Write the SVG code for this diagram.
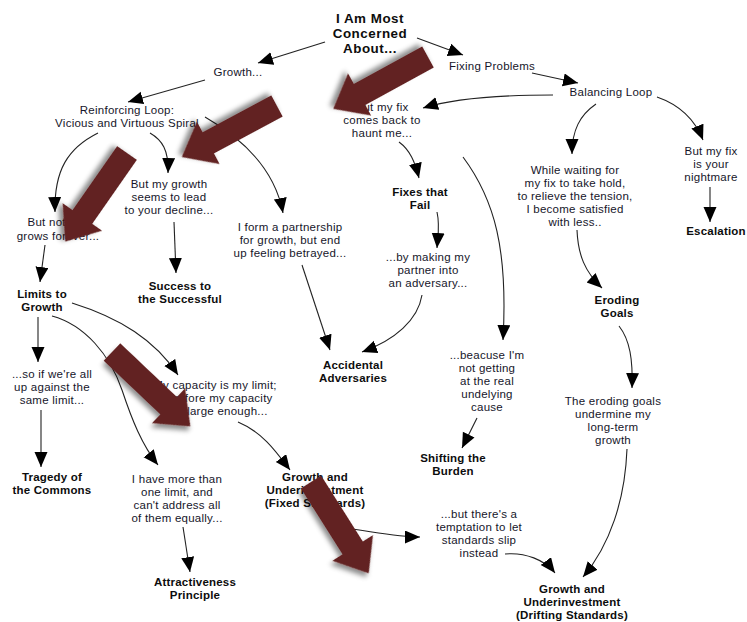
<svg xmlns="http://www.w3.org/2000/svg" xmlns:xlink="http://www.w3.org/1999/xlink" width="747" height="622" viewBox="0 0 747 622">
  <style>
    text { font-family: "Liberation Sans", Arial, sans-serif; text-anchor: middle; }
    .n { font-size: 11.5px; letter-spacing: 0.25px; fill: #16162a; }
    .b { font-size: 11.5px; letter-spacing: 0.2px; font-weight: bold; fill: #0d0d0d; }
    .t { font-size: 13.4px; letter-spacing: 0.5px; font-weight: bold; fill: #0d0d0d; }
    .link { fill: none; stroke: #222; stroke-width: 1.1; marker-end: url(#head); }
    .big { fill: #622422; filter: url(#shade); }
  </style>
  <defs>
    <marker id="head" markerUnits="userSpaceOnUse" markerWidth="16" markerHeight="14" refX="15" refY="6.5" orient="auto">
      <path d="M0,0 L15,6.5 L0,13 Z" fill="#000"/>
    </marker>
    <filter id="shade" x="-30%" y="-30%" width="160%" height="160%">
      <feDropShadow dx="2" dy="4" stdDeviation="2.5" flood-color="#000" flood-opacity="0.45"/>
    </filter>
    <!-- block arrow: tail at origin, tip at x=108 -->
    <path id="block" d="M0,-12 L78,-12 L78,-24 L108,0 L78,24 L78,12 L0,12 Z"/>
  </defs>

  <!-- connectors -->
  <g id="connectors">
    <path class="link" d="M325,42 L258,63"/>
    <path class="link" d="M205,80 L128,102"/>
    <path class="link" d="M98,133 C68,148 54,170 55,212"/>
    <path class="link" d="M150,133 C162,140 169,150 168,173"/>
    <path class="link" d="M205,117 C245,140 275,170 283,213"/>
    <path class="link" d="M45,245 L40,282"/>
    <path class="link" d="M174,222 L176,273"/>
    <path class="link" d="M302,265 L330,350"/>
    <path class="link" d="M38,317 L38,362"/>
    <path class="link" d="M72,303 C120,318 155,340 178,375"/>
    <path class="link" d="M52,316 C85,325 110,355 122,390 C132,420 142,445 158,465"/>
    <path class="link" d="M238,422 C262,432 275,450 290,470"/>
    <path class="link" d="M41,410 L41,467"/>
    <path class="link" d="M183,527 L190,572"/>
    <path class="link" d="M345,528 C375,532 398,537 420,537"/>
    <path class="link" d="M417,38 L463,55"/>
    <path class="link" d="M532,73 L578,83"/>
    <path class="link" d="M553,95 C500,95 455,98 423,108"/>
    <path class="link" d="M596,104 C580,115 572,130 572,154"/>
    <path class="link" d="M657,97 C680,105 695,120 703,140"/>
    <path class="link" d="M710,187 L710,222"/>
    <path class="link" d="M399,142 C410,150 415,162 419,178"/>
    <path class="link" d="M463,157 C495,200 508,250 503,340"/>
    <path class="link" d="M437,212 C440,225 438,235 437,248"/>
    <path class="link" d="M422,295 C418,320 395,340 362,352"/>
    <path class="link" d="M477,418 L462,448"/>
    <path class="link" d="M577,230 C578,255 585,272 602,288"/>
    <path class="link" d="M619,326 C630,340 633,360 632,388"/>
    <path class="link" d="M627,449 C625,500 610,545 583,577"/>
    <path class="link" d="M505,554 C525,552 545,560 555,573"/>
  </g>

  <!-- nodes -->
  <g id="concerned"><text class="t" x="370" y="23">I Am Most</text><text class="t" x="370" y="38">Concerned</text><text class="t" x="370" y="53">About...</text></g>
  <g id="growth"><text class="n" x="238" y="76">Growth...</text></g>
  <g id="reinforcing"><text class="n" x="127" y="114">Reinforcing Loop:</text><text class="n" x="127" y="127">Vicious and Virtuous Spiral</text></g>
  <g id="fixing"><text class="n" x="492" y="70">Fixing Problems</text></g>
  <g id="balancing"><text class="n" x="611" y="96">Balancing Loop</text></g>
  <g id="haunt"><text class="n" x="382" y="111">But my fix</text><text class="n" x="382" y="124">comes back to</text><text class="n" x="382" y="137">haunt me...</text></g>
  <g id="decline"><text class="n" x="169" y="188">But my growth</text><text class="n" x="169" y="201">seems to lead</text><text class="n" x="169" y="214">to your decline...</text></g>
  <g id="forever"><text class="n" x="58" y="226">But nothing</text><text class="n" x="58" y="240">grows forever...</text></g>
  <g id="partnership"><text class="n" x="290" y="231">I form a partnership</text><text class="n" x="290" y="244">for growth, but end</text><text class="n" x="290" y="257">up feeling betrayed...</text></g>
  <g id="waiting"><text class="n" x="575" y="174">While waiting for</text><text class="n" x="575" y="187">my fix to take hold,</text><text class="n" x="575" y="200">to relieve the tension,</text><text class="n" x="575" y="213">I become satisfied</text><text class="n" x="575" y="226">with less..</text></g>
  <g id="nightmare"><text class="n" x="711" y="155">But my fix</text><text class="n" x="711" y="168">is your</text><text class="n" x="711" y="181">nightmare</text></g>
  <g id="escalation"><text class="b" x="716" y="235">Escalation</text></g>
  <g id="fixes-fail"><text class="b" x="420" y="196">Fixes that</text><text class="b" x="420" y="209">Fail</text></g>
  <g id="adversary"><text class="n" x="428" y="261">...by making my</text><text class="n" x="428" y="274">partner into</text><text class="n" x="428" y="287">an adversary...</text></g>
  <g id="limits"><text class="b" x="42" y="298">Limits to</text><text class="b" x="42" y="311">Growth</text></g>
  <g id="success"><text class="b" x="180" y="290">Success to</text><text class="b" x="180" y="303">the Successful</text></g>
  <g id="accidental"><text class="b" x="353" y="369">Accidental</text><text class="b" x="353" y="382">Adversaries</text></g>
  <g id="eroding"><text class="b" x="617" y="304">Eroding</text><text class="b" x="617" y="317">Goals</text></g>
  <g id="same-limit"><text class="n" x="52" y="378">...so if we're all</text><text class="n" x="52" y="391">up against the</text><text class="n" x="52" y="404">same limit...</text></g>
  <g id="capacity"><text class="n" x="215" y="389">My capacity is my limit;</text><text class="n" x="215" y="402">therefore my capacity</text><text class="n" x="215" y="415">isn't large enough...</text></g>
  <g id="because"><text class="n" x="487" y="359">...beacuse I'm</text><text class="n" x="487" y="372">not getting</text><text class="n" x="487" y="385">at the real</text><text class="n" x="487" y="398">undelying</text><text class="n" x="487" y="411">cause</text></g>
  <g id="undermine"><text class="n" x="613" y="405">The eroding goals</text><text class="n" x="613" y="418">undermine my</text><text class="n" x="613" y="431">long-term</text><text class="n" x="613" y="444">growth</text></g>
  <g id="shifting"><text class="b" x="453" y="462">Shifting the</text><text class="b" x="453" y="475">Burden</text></g>
  <g id="tragedy"><text class="b" x="52" y="481">Tragedy of</text><text class="b" x="52" y="494">the Commons</text></g>
  <g id="more-limits"><text class="n" x="177" y="483">I have more than</text><text class="n" x="177" y="496">one limit, and</text><text class="n" x="177" y="509">can't address all</text><text class="n" x="177" y="522">of them equally...</text></g>
  <g id="fixed-standards"><text class="b" x="315" y="481">Growth and</text><text class="b" x="315" y="494">Underinvestment</text><text class="b" x="315" y="507">(Fixed Standards)</text></g>
  <g id="temptation"><text class="n" x="479" y="518">...but there's a</text><text class="n" x="479" y="531">temptation to let</text><text class="n" x="479" y="544">standards slip</text><text class="n" x="479" y="557">instead</text></g>
  <g id="attractiveness"><text class="b" x="195" y="586">Attractiveness</text><text class="b" x="195" y="599">Principle</text></g>
  <g id="drifting-standards"><text class="b" x="572" y="593">Growth and</text><text class="b" x="572" y="606">Underinvestment</text><text class="b" x="572" y="619">(Drifting Standards)</text></g>

  <!-- emphasis block arrows -->
  <g id="pointers">
    <use xlink:href="#block" class="big" transform="translate(428,57) rotate(151.3)"/>
    <use xlink:href="#block" class="big" transform="translate(277,106) rotate(151.8)"/>
    <use xlink:href="#block" class="big" transform="translate(127,153) rotate(124.9)"/>
    <use xlink:href="#block" class="big" transform="translate(112,352) rotate(43.5)"/>
    <use xlink:href="#block" class="big" transform="translate(311,482) rotate(57.7)"/>
  </g>
</svg>
